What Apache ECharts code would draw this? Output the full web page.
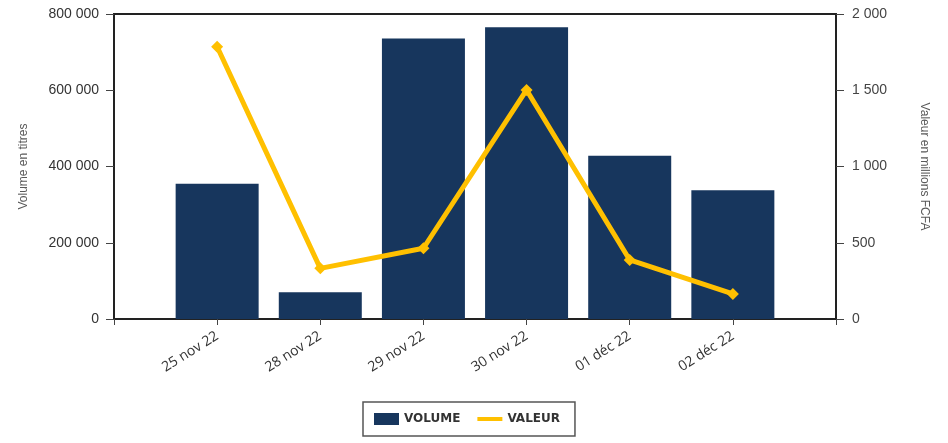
<!DOCTYPE html>
<html>
<head>
<meta charset="utf-8">
<style>
    html, body { margin: 0; padding: 0; background: #fff; }
    #chart { width: 948px; height: 443px; }
</style>
<script src="https://cdn.jsdelivr.net/npm/echarts@6/dist/echarts.min.js"></script>
</head>
<body>
<div id="chart"></div>
<script>
// donnees
var dates = ['25 nov 22', '28 nov 22', '29 nov 22', '30 nov 22', '01 déc 22', '02 déc 22'];
var volume = [355000, 70000, 736000, 765000, 428000, 338000];
var valeur = [1785, 332, 464, 1502, 387, 164];

// un creneau vide de chaque cote, comme sur l'original
function pad(arr, v) {
    return [v].concat(arr).concat([v]);
}

function fmtSpace(v) {
    return String(v).replace(/\B(?=(\d{3})+(?!\d))/g, ' ');
}

var chart = echarts.init(document.getElementById('chart'));
var axisCol = '#222';

var option = {
    backgroundColor: '#fff',
    animation: false,
    grid: {
        left: 114,
        right: 112,
        top: 14,
        bottom: 124,
        show: true,
        borderColor: axisCol,
        borderWidth: 2
    },
    legend: {
        left: 363,
        top: 402,
        padding: [11, 15, 11, 11],
        itemGap: 17,
        itemWidth: 25,
        itemHeight: 12,
        borderColor: '#555',
        borderWidth: 1.5,
        textStyle: {
            fontFamily: 'DejaVu Sans',
            fontSize: 12,
            fontWeight: 'bold',
            color: '#333'
        },
        data: [
            { name: 'VOLUME', icon: 'rect' },
            { name: 'VALEUR', icon: 'path://M0,0L25,0L25,4L0,4Z' }
        ]
    },
    xAxis: {
        type: 'category',
        data: pad(dates, ''),
        boundaryGap: false,
        axisLine: { lineStyle: { color: axisCol, width: 2 } },
        axisTick: { length: 6, lineStyle: { color: '#444' } },
        axisLabel: {
            rotate: 32,
            margin: 16,
            fontFamily: 'Open Sans',
            fontSize: 14,
            color: '#333'
        },
        splitLine: { show: false }
    },
    yAxis: [{
        type: 'value',
        min: 0,
        max: 800000,
        interval: 200000,
        name: 'Volume en titres',
        nameLocation: 'middle',
        nameGap: 84,
        nameTextStyle: { fontFamily: 'Liberation Sans', fontSize: 12, color: '#595959' },
        axisLine: { show: true, lineStyle: { color: axisCol, width: 2 } },
        axisTick: { show: true, length: 8, lineStyle: { color: '#444' } },
        axisLabel: {
            margin: 15,
            fontFamily: 'Liberation Sans',
            fontSize: 14,
            color: '#333',
            formatter: fmtSpace
        },
        splitLine: { show: false }
    }, {
        type: 'value',
        min: 0,
        max: 2000,
        interval: 500,
        name: 'Valeur en millions FCFA',
        nameLocation: 'middle',
        nameRotate: -90,
        nameGap: 82,
        nameTextStyle: { fontFamily: 'Liberation Sans', fontSize: 12, color: '#595959' },
        axisLine: { show: true, lineStyle: { color: axisCol, width: 2 } },
        axisTick: { show: true, length: 8, lineStyle: { color: '#444' } },
        axisLabel: {
            margin: 16,
            fontFamily: 'Liberation Sans',
            fontSize: 14,
            color: '#444',
            formatter: fmtSpace
        },
        splitLine: { show: false }
    }],
    series: [{
        name: 'VOLUME',
        type: 'bar',
        yAxisIndex: 0,
        barWidth: 83,
        itemStyle: { color: '#17365d' },
        data: pad(volume, null)
    }, {
        name: 'VALEUR',
        type: 'line',
        yAxisIndex: 1,
        symbol: 'diamond',
        symbolSize: 12,
        lineStyle: { color: '#ffc000', width: 5 },
        itemStyle: { color: '#ffc000' },
        data: pad(valeur, null)
    }]
};

chart.setOption(option);
</script>
</body>
</html>
